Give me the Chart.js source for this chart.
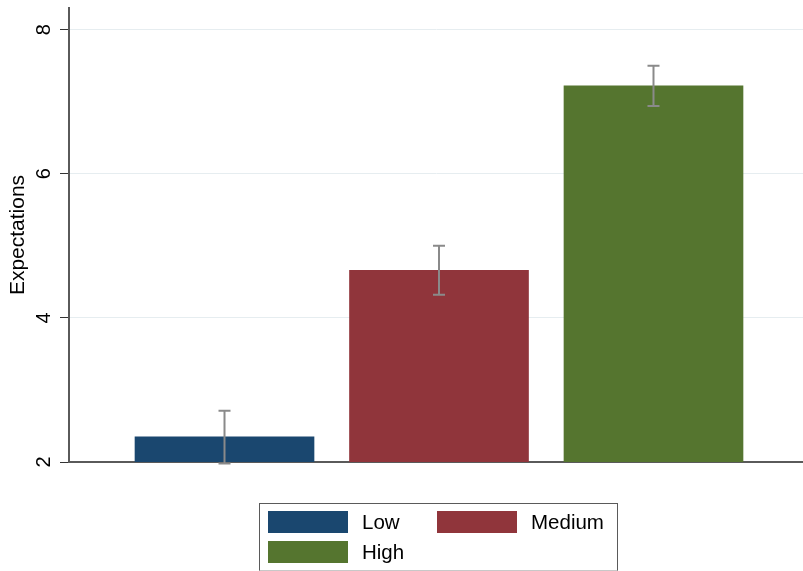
<!DOCTYPE html>
<html>
<head>
<meta charset="utf-8">
<script src="https://cdn.jsdelivr.net/npm/chart.js@4/dist/chart.umd.min.js"></script>
<style>
  html, body { margin: 0; padding: 0; background: #fff; }
  #wrap { position: relative; width: 803px; height: 571px; overflow: hidden; }
  #legend {
    position: absolute; left: 259px; top: 503px; width: 359px; height: 68px;
    box-sizing: border-box; border: 1px solid #5a5a5a; border-bottom-color: #c8c8c8;
    font-family: "Liberation Sans", Arial, Helvetica, sans-serif; font-size: 20.5px; color: #000;
  }
  .item { position: absolute; height: 22px; }
  .sw { position: absolute; left: 0; top: 0; width: 80px; height: 22px; }
  .lb { position: absolute; left: 94px; top: -1px; line-height: 24px; white-space: nowrap; }
</style>
</head>
<body>
<div id="wrap">
  <canvas id="c" width="803" height="571"></canvas>
  <div id="legend"></div>
</div>
<script>
// Group means of expectations with their confidence intervals
const groups = ['Low', 'Medium', 'High'];
const means  = [2.35, 4.66, 7.22];
const ciLow  = [1.98, 4.32, 6.94];
const ciHigh = [2.71, 5.00, 7.50];
const colors = ['#1a476f', '#90353b', '#55752f'];
const yTicks = [2, 4, 6, 8];

const FONT = '"Liberation Sans", Arial, Helvetica, sans-serif';

// Draws the confidence-interval whiskers on top of each bar
const errorBars = {
  id: 'errorBars',
  afterDatasetsDraw(chart) {
    const { ctx, scales: { x, y } } = chart;
    ctx.save();
    ctx.strokeStyle = '#8a8a8a';
    ctx.lineWidth = 2;
    const cap = 6;
    groups.forEach((g, i) => {
      const px = x.getPixelForValue(i + 1);
      const top = y.getPixelForValue(ciHigh[i]);
      const bot = y.getPixelForValue(ciLow[i]);
      ctx.beginPath();
      ctx.moveTo(px, top); ctx.lineTo(px, bot);
      ctx.moveTo(px - cap, top); ctx.lineTo(px + cap, top);
      ctx.moveTo(px - cap, bot); ctx.lineTo(px + cap, bot);
      ctx.stroke();
    });
    ctx.restore();
  }
};

const chart = new Chart(document.getElementById('c'), {
  type: 'bar',
  data: {
    datasets: groups.map((g, i) => ({
      label: g,
      data: [{ x: i + 1, y: means[i] }],
      backgroundColor: colors[i],
      borderWidth: 0,
      barThickness: 179
    }))
  },
  options: {
    responsive: false,
    animation: false,
    grouped: false,
    layout: { padding: { top: 8, right: 0, left: 0, bottom: 0 } },
    plugins: { legend: { display: false }, tooltip: { enabled: false } },
    scales: {
      x: {
        type: 'linear',
        offset: false,
        min: 0.275,
        max: 3.697,
        ticks: { display: false },
        grid: { display: false, drawTicks: false },
        border: { display: true, color: '#5a5a5a', width: 2 },
        afterFit(s) { s.height = 109; s.paddingLeft = 0; s.paddingRight = 0; }
      },
      y: {
        min: 2,
        max: 8.3,
        afterBuildTicks(s) { s.ticks = yTicks.map(v => ({ value: v })); },
        ticks: {
          minRotation: 90,
          maxRotation: 90,
          crossAlign: 'center',
          padding: 10,
          color: '#000',
          font: { family: FONT, size: 20 }
        },
        grid: {
          color: '#e6edf0',
          lineWidth: 1,
          tickColor: '#333',
          tickLength: 9
        },
        border: { display: true, color: '#5a5a5a', width: 2 },
        title: {
          display: true,
          text: 'Expectations',
          color: '#000',
          font: { family: FONT, size: 21 },
          padding: { top: 6, bottom: 0 }
        },
        afterFit(s) { s.width = 69; s.paddingTop = 0; s.paddingBottom = 0; }
      }
    }
  },
  plugins: [errorBars]
});

// Legend box built from the chart's datasets, two per row
const legend = document.getElementById('legend');
chart.data.datasets.forEach((ds, i) => {
  const col = i % 2, row = Math.floor(i / 2);
  const item = document.createElement('div');
  item.className = 'item';
  item.style.left = (8 + col * 169) + 'px';
  item.style.top = (7 + row * 30) + 'px';
  const sw = document.createElement('div');
  sw.className = 'sw';
  sw.style.background = ds.backgroundColor;
  const lb = document.createElement('div');
  lb.className = 'lb';
  lb.textContent = ds.label;
  item.appendChild(sw); item.appendChild(lb);
  legend.appendChild(item);
});
</script>
</body>
</html>
